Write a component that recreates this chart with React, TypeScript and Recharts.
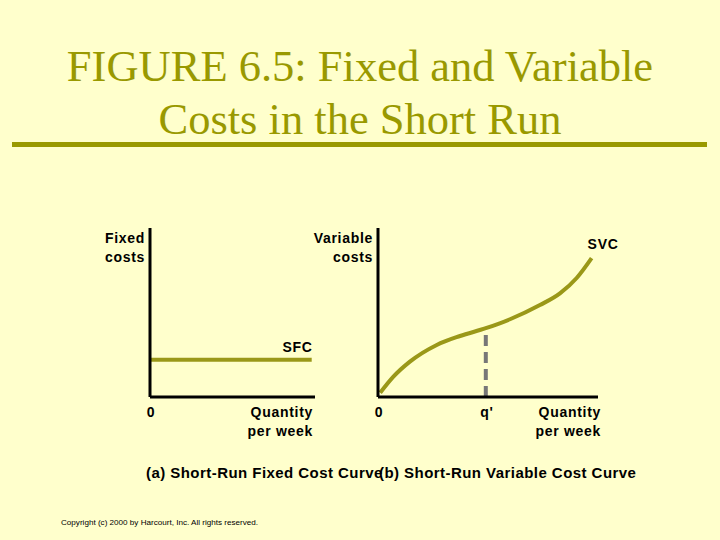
import React from 'react';
import { LineChart, Line, XAxis, YAxis } from 'recharts';

// panel (a): short-run fixed cost
const sfcQuantity = [0, 9.8];
const sfcCost = [2.2, 2.2];

// panel (b): short-run variable cost
const svcQuantity = [0.1, 0.7, 1.45, 2.67, 3.73, 4.9, 6.0, 7.36, 8.27, 9.03, 9.71];
const svcCost = [0.25, 1.2, 2.09, 3.08, 3.61, 4.07, 4.6, 5.44, 6.13, 7.04, 8.22];

// q' marker
const qPrimeQuantity = [4.9, 4.9];
const qPrimeCost = [0, 4.07];

const leftTicks = [0, 10];
const rightTicks = [0, 4.9, 10];
const leftTickLabels = ['0', 'Quantity|per week'];
const rightTickLabels = ['0', "q'", 'Quantity|per week'];

const sfcData = sfcQuantity.map((q, i) => ({ q, cost: sfcCost[i] }));
const svcData = svcQuantity.map((q, i) => ({ q, cost: svcCost[i] }));
const qPrimeData = qPrimeQuantity.map((q, i) => ({ q, cost: qPrimeCost[i] }));

const BG = '#FFFFCC';
const OLIVE = '#999900';
const CURVE = '#9A9818';
const LABEL_FONT = '"Liberation Sans", Arial, sans-serif';

const labelStyle = {
  fontFamily: LABEL_FONT,
  fontSize: 14,
  fontWeight: 700,
  letterSpacing: 0.7,
  fill: '#000',
};

const makeXTick = (ticks: number[], labels: string[], lastShift: number) => (props: any) => {
  const { x, y, payload } = props;
  const idx = ticks.indexOf(payload.value);
  const text = labels[idx] ?? '';
  if (text.includes('|')) {
    const [a, b] = text.split('|');
    return (
      <g>
        <text x={x + lastShift} y={y + 12} textAnchor="end" style={labelStyle}>{a}</text>
        <text x={x + lastShift} y={y + 31} textAnchor="end" style={labelStyle}>{b}</text>
      </g>
    );
  }
  return (
    <text x={x + 1} y={y + 12} textAnchor="middle" style={labelStyle}>{text}</text>
  );
};

const makeYTick = (lines: string[]) => (props: any) => {
  const { x, y } = props;
  return (
    <g>
      <text x={x} y={y + 15} textAnchor="end" style={labelStyle}>{lines[0]}</text>
      <text x={x} y={y + 34} textAnchor="end" style={labelStyle}>{lines[1]}</text>
    </g>
  );
};

const makeEndLabel = (name: string, count: number, dx: number, dy: number, anchor: string) => (props: any) => {
  const { x, y, index } = props;
  if (index !== count - 1) return null;
  return (
    <text x={x + dx} y={y + dy} textAnchor={anchor as any} style={labelStyle}>{name}</text>
  );
};

const axisLine = { stroke: '#000', strokeWidth: 3 };
const abs: React.CSSProperties = { position: 'absolute', left: 0, top: 0 };
const captionStyle: React.CSSProperties = {
  position: 'absolute',
  top: 464,
  fontFamily: LABEL_FONT,
  fontSize: 15,
  fontWeight: 700,
  letterSpacing: 0.45,
  whiteSpace: 'nowrap',
  color: '#000',
};

export default function App() {
  return (
    <div style={{ ...abs, width: 720, height: 540, background: BG, overflow: 'hidden' }}>
      <div
        style={{
          position: 'absolute',
          left: 0,
          top: 40,
          width: 720,
          textAlign: 'center',
          fontFamily: '"Liberation Serif", "Times New Roman", serif',
          fontSize: 44.5,
          lineHeight: '53px',
          color: OLIVE,
        }}
      >
        FIGURE 6.5: Fixed and Variable
        <br />
        Costs in the Short Run
      </div>
      <div style={{ position: 'absolute', left: 12, top: 142, width: 695, height: 5, background: OLIVE }} />

      <div style={abs}>
        <LineChart width={720} height={540} margin={{ top: 228, left: 90, right: 405, bottom: 93 }}>
          <XAxis
            type="number"
            dataKey="q"
            domain={[0, 10]}
            ticks={leftTicks}
            interval={0}
            height={50}
            tickLine={false}
            axisLine={axisLine}
            tick={makeXTick(leftTicks, leftTickLabels, -2)}
          />
          <YAxis
            type="number"
            domain={[0, 10]}
            ticks={[10]}
            interval={0}
            width={60}
            tickLine={false}
            tickSize={3}
            axisLine={axisLine}
            tick={makeYTick(['Fixed', 'costs'])}
          />
          <Line
            data={sfcData}
            dataKey="cost"
            type="linear"
            stroke={CURVE}
            strokeWidth={4}
            dot={false}
            activeDot={false}
            isAnimationActive={false}
            label={makeEndLabel('SFC', sfcData.length, 1, -8, 'end')}
          />
        </LineChart>
      </div>

      <div style={abs}>
        <LineChart width={720} height={540} margin={{ top: 228, left: 318, right: 122, bottom: 93 }}>
          <XAxis
            type="number"
            dataKey="q"
            domain={[0, 10]}
            ticks={rightTicks}
            interval={0}
            height={50}
            tickLine={false}
            axisLine={axisLine}
            tick={makeXTick(rightTicks, rightTickLabels, 3)}
          />
          <YAxis
            type="number"
            domain={[0, 10]}
            ticks={[10]}
            interval={0}
            width={60}
            tickLine={false}
            tickSize={3}
            axisLine={axisLine}
            tick={makeYTick(['Variable', 'costs'])}
          />
          <Line
            data={qPrimeData}
            dataKey="cost"
            type="linear"
            stroke="#777777"
            strokeWidth={4}
            strokeDasharray="11 6"
            dot={false}
            activeDot={false}
            isAnimationActive={false}
          />
          <Line
            data={svcData}
            dataKey="cost"
            type="monotone"
            stroke={CURVE}
            strokeWidth={4}
            dot={false}
            activeDot={false}
            isAnimationActive={false}
            label={makeEndLabel('SVC', svcData.length, -4, -9, 'start')}
          />
        </LineChart>
      </div>

      <div style={{ ...captionStyle, left: 146 }}>(a) Short-Run Fixed Cost Curve</div>
      <div style={{ ...captionStyle, left: 379 }}>(b) Short-Run Variable Cost Curve</div>
      <div
        style={{
          position: 'absolute',
          left: 61,
          top: 518,
          fontFamily: LABEL_FONT,
          fontSize: 8.1,
          whiteSpace: 'nowrap',
          color: '#000',
        }}
      >
        Copyright (c) 2000 by Harcourt, Inc. All rights reserved.
      </div>
    </div>
  );
}
